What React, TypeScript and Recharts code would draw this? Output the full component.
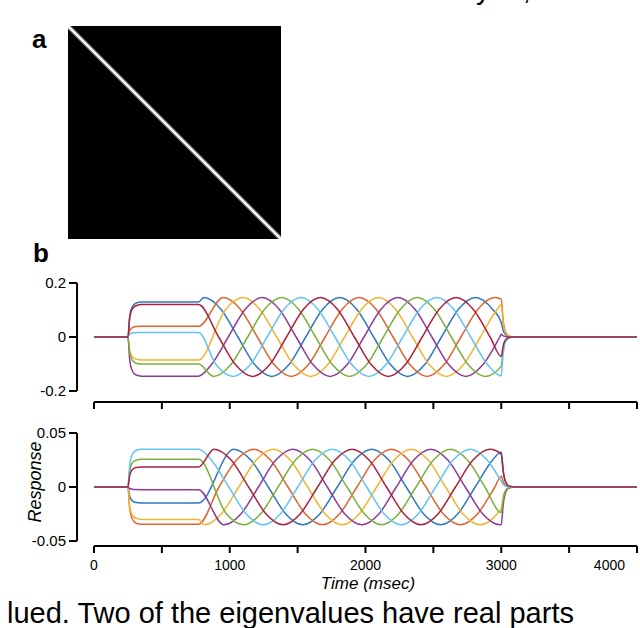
import { Line, LineChart, ReferenceArea, ReferenceLine, XAxis, YAxis } from "recharts";

const FONT = '"Liberation Sans", Arial, Helvetica, sans-serif';

// series colours, in drawing order (red ends up on top)
const COLORS = ["#2f78be", "#e0642f", "#f0b432", "#8c3c96", "#7daf3c", "#64c3f0", "#aa233c"];

const TIME_TICKS = [0, 500, 1000, 1500, 2000, 2500, 3000, 3500, 4000];
const TOP_Y_TICKS = [-0.2, 0, 0.2];
const BOTTOM_Y_TICKS = [-0.05, 0, 0.05];
// the y axes sit a little left of t = 0 (about 125 msec)
const Y_AXIS_T = -125;

// panel a: the matrix image, a bright diagonal on black
const diagCol = [0, 1];
const diagRow = [1, 0];

// panel b, upper traces: [time (msec), value]
const topBlue = [[0, 0], [250, 0], [262, 0.072], [280, 0.11], [310, 0.126], [350, 0.13], [770, 0.13], [810, 0.146], [935, 0.103], [1060, 0], [1185, -0.103], [1310, -0.146], [1435, -0.103], [1560, 0], [1685, 0.103], [1810, 0.146], [1935, 0.103], [2060, 0], [2185, -0.103], [2310, -0.146], [2435, -0.103], [2560, 0], [2685, 0.103], [2810, 0.146], [2935, 0.103], [3000, 0.054], [3015, 0.022], [3040, 0.005], [3080, 0], [4000, 0]];
const topOrange = [[0, 0], [250, 0], [262, 0.022], [280, 0.034], [310, 0.039], [350, 0.04], [770, 0.04], [953, 0.146], [1078, 0.103], [1203, 0], [1328, -0.103], [1453, -0.146], [1578, -0.103], [1703, 0], [1828, 0.103], [1953, 0.146], [2078, 0.103], [2203, 0], [2328, -0.103], [2453, -0.146], [2578, -0.103], [2703, 0], [2828, 0.103], [2953, 0.146], [3000, 0.14], [3015, 0.056], [3040, 0.011], [3080, 0], [4000, 0]];
const topYellow = [[0, 0], [250, 0], [262, -0.047], [280, -0.072], [310, -0.082], [350, -0.085], [770, -0.085], [971, 0.103], [1096, 0.146], [1221, 0.103], [1346, 0], [1471, -0.103], [1596, -0.146], [1721, -0.103], [1846, 0], [1971, 0.103], [2096, 0.146], [2221, 0.103], [2346, 0], [2471, -0.103], [2596, -0.146], [2721, -0.103], [2846, 0], [2971, 0.103], [3000, 0.12], [3015, 0.048], [3040, 0.01], [3080, 0], [4000, 0]];
const topPurple = [[0, 0], [250, 0], [262, -0.08], [280, -0.123], [310, -0.141], [350, -0.145], [770, -0.145], [864, -0.103], [989, 0], [1114, 0.103], [1239, 0.146], [1364, 0.103], [1489, 0], [1614, -0.103], [1739, -0.146], [1864, -0.103], [1989, 0], [2114, 0.103], [2239, 0.146], [2364, 0.103], [2489, 0], [2614, -0.103], [2739, -0.146], [2864, -0.103], [2989, 0], [3000, 0.01], [3015, 0.004], [3040, 0.001], [3080, 0], [4000, 0]];
const topGreen = [[0, 0], [250, 0], [262, -0.055], [280, -0.085], [310, -0.097], [350, -0.1], [770, -0.1], [882, -0.146], [1007, -0.103], [1132, 0], [1257, 0.103], [1382, 0.146], [1507, 0.103], [1632, 0], [1757, -0.103], [1882, -0.146], [2007, -0.103], [2132, 0], [2257, 0.103], [2382, 0.146], [2507, 0.103], [2632, 0], [2757, -0.103], [2882, -0.146], [3000, -0.108], [3015, -0.043], [3040, -0.008], [3080, 0], [4000, 0]];
const topLightBlue = [[0, 0], [250, 0], [262, 0.01], [280, 0.015], [310, 0.017], [350, 0.017], [770, 0.017], [900, -0.103], [1025, -0.146], [1150, -0.103], [1275, 0], [1400, 0.103], [1525, 0.146], [1650, 0.103], [1775, 0], [1900, -0.103], [2025, -0.146], [2150, -0.103], [2275, 0], [2400, 0.103], [2525, 0.146], [2650, 0.103], [2775, 0], [2900, -0.103], [3000, -0.144], [3015, -0.058], [3040, -0.011], [3080, 0], [4000, 0]];
const topRed = [[0, 0], [250, 0], [262, 0.066], [280, 0.102], [310, 0.116], [350, 0.12], [770, 0.12], [918, 0], [1043, -0.103], [1168, -0.146], [1293, -0.103], [1418, 0], [1543, 0.103], [1668, 0.146], [1793, 0.103], [1918, 0], [2043, -0.103], [2168, -0.146], [2293, -0.103], [2418, 0], [2543, 0.103], [2668, 0.146], [2793, 0.103], [2918, 0], [3000, -0.072], [3015, -0.03], [3040, -0.006], [3080, 0], [4000, 0]];

// panel b, lower traces (Response)
const botBlue = [[0, 0], [250, 0], [262, -0.008], [280, -0.0126], [310, -0.0144], [350, -0.0148], [770, -0.0148], [1030, 0.035], [1157, 0.0247], [1284, 0], [1411, -0.0247], [1538, -0.035], [1665, -0.0247], [1792, 0], [1919, 0.0247], [2046, 0.035], [2173, 0.0247], [2300, 0], [2427, -0.0247], [2554, -0.035], [2681, -0.0247], [2808, 0], [2935, 0.0247], [3000, 0.0325], [3015, 0.0146], [3035, 0.0039], [3060, 0.0007], [3100, 0], [4000, 0]];
const botOrange = [[0, 0], [250, 0], [262, -0.019], [280, -0.029], [310, -0.0335], [350, -0.0345], [770, -0.0345], [921, 0], [1048, 0.0247], [1175, 0.035], [1302, 0.0247], [1429, 0], [1556, -0.0247], [1683, -0.035], [1810, -0.0247], [1937, 0], [2064, 0.0247], [2191, 0.035], [2318, 0.0247], [2445, 0], [2572, -0.0247], [2699, -0.035], [2826, -0.0247], [2953, 0], [3000, 0.01], [3015, 0.0045], [3035, 0.0012], [3060, 0.0002], [3100, 0], [4000, 0]];
const botYellow = [[0, 0], [250, 0], [262, -0.0165], [280, -0.0255], [310, -0.029], [350, -0.03], [770, -0.03], [812, -0.035], [939, -0.0247], [1066, 0], [1193, 0.0247], [1320, 0.035], [1447, 0.0247], [1574, 0], [1701, -0.0247], [1828, -0.035], [1955, -0.0247], [2082, 0], [2209, 0.0247], [2336, 0.035], [2463, 0.0247], [2590, 0], [2717, -0.0247], [2844, -0.035], [2971, -0.0247], [3000, -0.02], [3015, -0.009], [3035, -0.0024], [3060, -0.0004], [3100, 0], [4000, 0]];
const botPurple = [[0, 0], [250, 0], [262, -0.0014], [280, -0.0021], [310, -0.0024], [350, -0.0025], [770, -0.0025], [957, -0.035], [1084, -0.0247], [1211, 0], [1338, 0.0247], [1465, 0.035], [1592, 0.0247], [1719, 0], [1846, -0.0247], [1973, -0.035], [2100, -0.0247], [2227, 0], [2354, 0.0247], [2481, 0.035], [2608, 0.0247], [2735, 0], [2862, -0.0247], [2989, -0.035], [3000, -0.035], [3015, -0.0157], [3035, -0.0042], [3060, -0.0007], [3100, 0], [4000, 0]];
const botGreen = [[0, 0], [250, 0], [262, 0.014], [280, 0.0218], [310, 0.0248], [350, 0.0256], [770, 0.0256], [975, -0.0247], [1102, -0.035], [1229, -0.0247], [1356, 0], [1483, 0.0247], [1610, 0.035], [1737, 0.0247], [1864, 0], [1991, -0.0247], [2118, -0.035], [2245, -0.0247], [2372, 0], [2499, 0.0247], [2626, 0.035], [2753, 0.0247], [2880, 0], [3000, -0.0237], [3015, -0.0107], [3035, -0.0028], [3060, -0.0005], [3100, 0], [4000, 0]];
const botLightBlue = [[0, 0], [250, 0], [262, 0.019], [280, 0.0297], [310, 0.0338], [350, 0.0349], [770, 0.0349], [866, 0.0247], [993, 0], [1120, -0.0247], [1247, -0.035], [1374, -0.0247], [1501, 0], [1628, 0.0247], [1755, 0.035], [1882, 0.0247], [2009, 0], [2136, -0.0247], [2263, -0.035], [2390, -0.0247], [2517, 0], [2644, 0.0247], [2771, 0.035], [2898, 0.0247], [3000, 0.0054], [3015, 0.0024], [3035, 0.0006], [3060, 0.0001], [3100, 0], [4000, 0]];
const botRed = [[0, 0], [250, 0], [262, 0.01], [280, 0.0157], [310, 0.018], [350, 0.0185], [770, 0.0185], [885, 0.035], [1012, 0.0247], [1139, 0], [1266, -0.0247], [1393, -0.035], [1520, -0.0247], [1647, 0], [1774, 0.0247], [1901, 0.035], [2028, 0.0247], [2155, 0], [2282, -0.0247], [2409, -0.035], [2536, -0.0247], [2663, 0], [2790, 0.0247], [2917, 0.035], [3000, 0.0305], [3015, 0.0137], [3035, 0.0037], [3060, 0.0006], [3100, 0], [4000, 0]];

const toPoints = (pairs: number[][]) => pairs.map(([t, v]) => ({ t, v }));

const TOP_SERIES = [topBlue, topOrange, topYellow, topPurple, topGreen, topLightBlue, topRed].map(toPoints);
const BOTTOM_SERIES = [botBlue, botOrange, botYellow, botPurple, botGreen, botLightBlue, botRed].map(toPoints);
const matrixData = diagCol.map((c, i) => ({ c, r: diagRow[i] }));

const tickLineStyle = { stroke: "#000", strokeWidth: 2 };
const yTickStyle = { fontSize: 15, fill: "#000", fontFamily: FONT };
// x axis line starts at t = 0, not at the left edge of the plot area
const xAxisLine = { stroke: "#000", strokeWidth: 2, strokeDasharray: "0 17 600" };

function NoTick() {
  return <g />;
}

function TimeTick(props: any) {
  const { x, y, payload } = props;
  const v = payload.value;
  if (v % 1000 !== 0) return <g />;
  const last = v === 4000;
  return (
    <text x={last ? x + 1 : x} y={y} dy="0.71em" textAnchor={last ? "end" : "middle"} fontSize={14} fill="#000" fontFamily={FONT}>
      {v}
    </text>
  );
}

function TimeLabel(props: any) {
  const vb = props.viewBox || {};
  return (
    <text x={(vb.x ?? 77) + 291} y={(vb.y ?? 126) + 43} textAnchor="middle" fontSize={17} fontStyle="italic" fill="#000" fontFamily={FONT}>
      Time (msec)
    </text>
  );
}

function ResponseLabel(props: any) {
  const vb = props.viewBox || {};
  const x = (vb.x ?? 17) + 24;
  const y = (vb.y ?? 13) + 49;
  return (
    <text x={x} y={y} transform={`rotate(-90, ${x}, ${y})`} textAnchor="middle" fontSize={18} fontStyle="italic" fill="#000" fontFamily={FONT}>
      Response
    </text>
  );
}

export default function App() {
  return (
    <div style={{ position: "absolute", left: 0, top: 0, width: 640, height: 628, background: "#fff", overflow: "hidden", fontFamily: FONT }}>
      <svg width={640} height={628} style={{ position: "absolute", left: 0, top: 0 }}>
        <text x={476} y={-1} fontSize={29} fill="#000" fontFamily={FONT}>y to,</text>
        <text x={32} y={48} fontSize={26} fontWeight="bold" fill="#000" fontFamily={FONT}>a</text>
        <text x={33} y={262} fontSize={26} fontWeight="bold" fill="#000" fontFamily={FONT}>b</text>
        <text x={7} y={623} fontSize={29} fill="#000" fontFamily={FONT}>lued. Two of the eigenvalues have real parts</text>
      </svg>

      <div style={{ position: "absolute", left: 68, top: 26 }}>
        <LineChart width={213} height={213} margin={{ top: 0, right: 0, bottom: 0, left: 0 }}>
          <XAxis type="number" dataKey="c" domain={[0, 1]} hide />
          <YAxis type="number" domain={[0, 1]} hide />
          <ReferenceArea x1={0} x2={1} y1={0} y2={1} fill="#000" fillOpacity={1} stroke="none" ifOverflow="visible" />
          <Line data={matrixData} dataKey="r" stroke="#7a7a7a" strokeWidth={4.5} dot={false} activeDot={false} isAnimationActive={false} />
          <Line data={matrixData} dataKey="r" stroke="#ffffff" strokeWidth={2} dot={false} activeDot={false} isAnimationActive={false} />
        </LineChart>
      </div>

      <div style={{ position: "absolute", left: 0, top: 270 }}>
        <LineChart width={640} height={144} margin={{ top: 13, right: 3, bottom: 2, left: 17 }}>
          <XAxis
            type="number"
            dataKey="t"
            domain={[0, 4000]}
            ticks={TIME_TICKS}
            padding={{ left: 17, right: 0 }}
            height={10}
            tickSize={7}
            tick={<NoTick />}
            axisLine={xAxisLine}
            tickLine={tickLineStyle}
          />
          <YAxis
            type="number"
            domain={[-0.2, 0.2]}
            ticks={TOP_Y_TICKS}
            width={60}
            padding={{ top: 0, bottom: 11 }}
            tickSize={8}
            tickMargin={3}
            tick={yTickStyle}
            axisLine={false}
            tickLine={tickLineStyle}
          />
          <ReferenceLine
            segment={[{ x: Y_AXIS_T, y: 0.2 }, { x: Y_AXIS_T, y: -0.2 }]}
            stroke="#000"
            strokeWidth={2}
            ifOverflow="visible"
          />
          {TOP_SERIES.map((s, i) => (
            <Line
              key={`top-${i}`}
              data={s}
              dataKey="v"
              type="monotone"
              stroke={COLORS[i]}
              strokeWidth={1.5}
              dot={false}
              activeDot={false}
              isAnimationActive={false}
            />
          ))}
        </LineChart>
      </div>

      <div style={{ position: "absolute", left: 0, top: 420 }}>
        <LineChart width={640} height={177} margin={{ top: 13, right: 3, bottom: 8, left: 17 }}>
          <XAxis
            type="number"
            dataKey="t"
            domain={[0, 4000]}
            ticks={TIME_TICKS}
            padding={{ left: 17, right: 0 }}
            height={43}
            tickSize={7}
            tickMargin={7}
            tick={<TimeTick />}
            axisLine={xAxisLine}
            tickLine={tickLineStyle}
            label={<TimeLabel />}
          />
          <YAxis
            type="number"
            domain={[-0.05, 0.05]}
            ticks={BOTTOM_Y_TICKS}
            width={60}
            padding={{ top: 0, bottom: 5 }}
            tickSize={8}
            tickMargin={3}
            tick={yTickStyle}
            axisLine={false}
            tickLine={tickLineStyle}
            label={<ResponseLabel />}
          />
          <ReferenceLine
            segment={[{ x: Y_AXIS_T, y: 0.05 }, { x: Y_AXIS_T, y: -0.05 }]}
            stroke="#000"
            strokeWidth={2}
            ifOverflow="visible"
          />
          {BOTTOM_SERIES.map((s, i) => (
            <Line
              key={`bot-${i}`}
              data={s}
              dataKey="v"
              type="monotone"
              stroke={COLORS[i]}
              strokeWidth={1.5}
              dot={false}
              activeDot={false}
              isAnimationActive={false}
            />
          ))}
        </LineChart>
      </div>
    </div>
  );
}
